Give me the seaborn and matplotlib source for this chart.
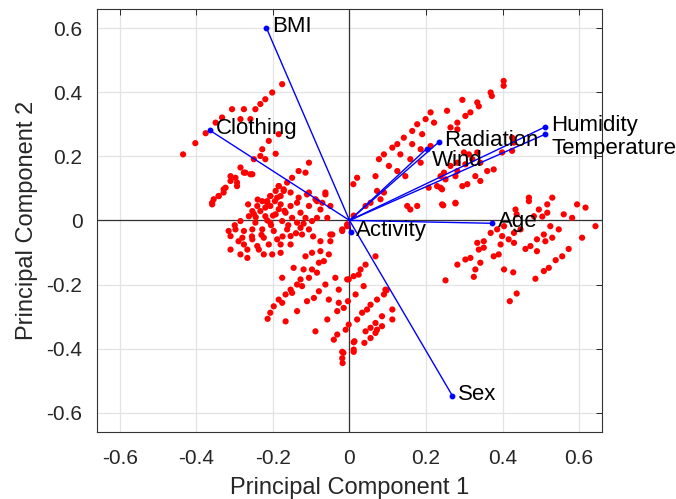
import matplotlib
matplotlib.use("Agg")
import matplotlib.pyplot as plt
import seaborn as sns
import pandas as pd

# ---- observation scores (PC1, PC2) ----
score_pc1 = [
    # upper-left arm (Clothing direction)
    -0.176, -0.202, -0.220, -0.233, -0.246, -0.276, -0.307, -0.333, -0.285, -0.259,
    -0.350, -0.376, -0.403, -0.435, -0.211, -0.185, -0.228, -0.233, -0.193, -0.220,
    -0.250, -0.285, -0.272, -0.254, -0.298, -0.311, -0.294, -0.324, -0.329, -0.342,
    -0.355, -0.359, -0.106, -0.133, -0.115, -0.150, -0.163, -0.185, -0.193, -0.172,
    -0.180, -0.207, -0.215, -0.063, -0.089, -0.106, -0.071,
    -0.311, -0.294, -0.276, -0.259, -0.329, -0.342, -0.359,
    # dense central-left cluster
    -0.185, -0.172, -0.154, -0.207, -0.189, -0.228, -0.215, -0.241, -0.254, -0.233,
    -0.207, -0.180, -0.154, -0.137, -0.133, -0.111, -0.063, -0.085, -0.106, -0.076,
    -0.050, -0.263, -0.220, -0.193, -0.167, -0.150, -0.128, -0.115, -0.285, -0.246,
    -0.207, -0.176, -0.137, -0.098, -0.085, -0.058, -0.316, -0.298, -0.276, -0.254,
    -0.228, -0.198, -0.163, -0.128, -0.106, -0.311, -0.280, -0.254, -0.224, -0.189,
    -0.154, -0.124, -0.050, -0.019, -0.006, -0.276, -0.241, -0.211, -0.180, -0.154,
    -0.311, -0.267, -0.237, -0.076, -0.050, -0.285, -0.224, -0.202, -0.180, -0.267,
    -0.019, -0.045,
    -0.240, -0.220, -0.195, -0.170, -0.265, -0.245, -0.215, -0.185, -0.160, -0.230,
    -0.205, -0.255, -0.290, -0.300, -0.140, -0.120, -0.095, -0.200, -0.175, -0.250,
    # lower arm
    -0.115, -0.098, -0.076, -0.054, -0.146, -0.120, -0.098, -0.080, -0.067, -0.176,
    -0.128, -0.106, -0.085, -0.137, -0.124, -0.154, -0.150, -0.167, -0.185, -0.176,
    -0.198, -0.207, -0.214, -0.167, -0.137, -0.111, -0.093, -0.080, -0.063, -0.037,
    -0.028, -0.054, -0.028, -0.032, -0.058, -0.089, -0.041, -0.032, -0.010, -0.002,
    -0.015, -0.004, -0.002, 0.011, 0.024, 0.042, 0.068, 0.037, 0.016, 0.020,
    0.033, 0.046, 0.055, 0.072, 0.090, 0.097, 0.112, 0.112, 0.085, 0.068,
    0.055, 0.042, 0.068, 0.055, 0.039, 0.013, 0.011, -0.016, -0.018, -0.019,
    -0.019, 0.011, 0.011, 0.072, 0.085, 0.094, 0.029, -0.006,
    # upper-right arm (Radiation / Humidity direction)
    0.403, 0.369, 0.334, 0.295, 0.316, 0.303, 0.255, 0.212, 0.199, 0.221,
    0.177, 0.164, 0.190, 0.264, 0.282, 0.282, 0.142, 0.164, 0.186, 0.212,
    0.112, 0.125, 0.090, 0.077, 0.133, 0.159, 0.186, 0.103, 0.125, 0.146,
    0.068, 0.020, 0.010, 0.090, 0.072, 0.081, 0.055, 0.042, 0.151, 0.177,
    0.159, 0.242, 0.277, 0.299, 0.312, 0.334, 0.321, 0.303, 0.282, 0.264,
    0.247, 0.238, 0.251, 0.277, 0.282, 0.360, 0.377, 0.342, 0.329, 0.342,
    0.308, 0.295, 0.229, 0.207, 0.238, 0.399, 0.425, 0.430, 0.425, 0.403,
    0.372, 0.338, -0.006, 0.011,
    # right cluster (Age direction)
    0.242, 0.245, 0.277, 0.469, 0.530, 0.517, 0.495, 0.517, 0.434, 0.437,
    0.482, 0.560, 0.582, 0.595, 0.617, 0.643, 0.547, 0.525, 0.508, 0.512,
    0.530, 0.490, 0.473, 0.460, 0.490, 0.447, 0.430, 0.404, 0.386, 0.369,
    0.399, 0.416, 0.395, 0.430, 0.351, 0.334, 0.338, 0.351, 0.377, 0.390,
    0.316, 0.303, 0.342, 0.282, 0.329, 0.325, 0.251, 0.404, 0.428, 0.486,
    0.508, 0.521, 0.539, 0.556, 0.573, 0.608, 0.437, 0.419, 0.504, 0.469,
]
score_pc2 = [
    0.425, 0.399, 0.378, 0.363, 0.347, 0.347, 0.347, 0.321, 0.316, 0.316,
    0.305, 0.272, 0.241, 0.206, 0.248, 0.269, 0.222, 0.201, 0.208, 0.191,
    0.191, 0.165, 0.149, 0.144, 0.133, 0.123, 0.107, 0.102, 0.087, 0.076,
    0.066, 0.050, 0.180, 0.154, 0.149, 0.133, 0.118, 0.107, 0.092, 0.092,
    0.076, 0.076, 0.060, 0.087, 0.066, 0.087, 0.055,
    0.138, 0.118, 0.149, 0.144, 0.097, 0.076, 0.055,
    0.107, 0.097, 0.087, 0.076, 0.071, 0.060, 0.055, 0.045, 0.029, 0.029,
    0.045, 0.050, 0.045, 0.055, 0.071, 0.081, 0.081, 0.060, 0.045, 0.034,
    0.045, 0.013, 0.013, 0.019, 0.024, 0.008, 0.024, 0.008, -0.002, -0.007,
    -0.007, -0.002, -0.007, -0.002, 0.008, 0.008, -0.033, -0.028, -0.033, -0.028,
    -0.028, -0.033, -0.028, -0.023, -0.028, -0.049, -0.054, -0.059, -0.054, -0.059,
    -0.049, -0.044, -0.044, -0.028, -0.018, -0.075, -0.080, -0.075, -0.075, -0.075,
    -0.091, -0.091, -0.091, -0.065, -0.065, -0.106, -0.106, -0.106, -0.101, -0.117,
    -0.033, -0.044,
    0.065, 0.040, 0.060, 0.030, 0.050, 0.010, 0.000, 0.035, -0.015, -0.045,
    -0.015, -0.050, -0.065, -0.015, -0.040, -0.010, -0.050, 0.015, -0.050, 0.020,
    -0.112, -0.101, -0.096, -0.106, -0.148, -0.153, -0.153, -0.132, -0.127, -0.179,
    -0.184, -0.179, -0.163, -0.200, -0.205, -0.216, -0.226, -0.231, -0.247, -0.257,
    -0.268, -0.288, -0.307, -0.315, -0.283, -0.252, -0.242, -0.221, -0.200, -0.179,
    -0.216, -0.247, -0.257, -0.283, -0.309, -0.346, -0.372, -0.356, -0.341, -0.325,
    -0.273, -0.252, -0.184, -0.174, -0.169, -0.138, -0.112, -0.205, -0.231, -0.309,
    -0.288, -0.278, -0.263, -0.247, -0.231, -0.218, -0.278, -0.309, -0.299, -0.320,
    -0.335, -0.346, -0.351, -0.367, -0.382, -0.377, -0.403, -0.413, -0.445, -0.410,
    -0.430, -0.380, -0.410, -0.341, -0.330, -0.216, -0.153, -0.184,
    0.435, 0.399, 0.368, 0.376, 0.337, 0.326, 0.342, 0.337, 0.316, 0.305,
    0.300, 0.279, 0.269, 0.290, 0.305, 0.284, 0.258, 0.238, 0.222, 0.232,
    0.227, 0.238, 0.206, 0.191, 0.206, 0.191, 0.180, 0.170, 0.154, 0.138,
    0.138, 0.133, 0.113, 0.087, 0.092, 0.066, 0.055, 0.045, 0.045, 0.045,
    0.034, 0.050, 0.055, 0.212, 0.206, 0.212, 0.191, 0.175, 0.180, 0.170,
    0.149, 0.138, 0.128, 0.138, 0.154, 0.154, 0.159, 0.180, 0.138, 0.123,
    0.113, 0.107, 0.107, 0.102, 0.102, 0.212, 0.217, 0.243, 0.258, 0.420,
    0.388, 0.356, -0.012, 0.015,
    0.097, 0.047, 0.053, 0.071, 0.071, 0.050, 0.034, 0.024, 0.034, 0.019,
    0.013, 0.019, 0.008, 0.050, 0.040, -0.018, -0.028, -0.018, -0.044, -0.065,
    -0.054, -0.059, -0.080, -0.089, -0.096, -0.028, -0.039, -0.018, -0.028, -0.039,
    -0.049, -0.059, -0.075, -0.070, -0.065, -0.070, -0.091, -0.085, -0.112, -0.106,
    -0.117, -0.122, -0.132, -0.138, -0.153, -0.176, -0.187, -0.153, -0.162, -0.182,
    -0.158, -0.148, -0.124, -0.112, -0.089, -0.054, -0.228, -0.252, 0.012, 0.060,
]

# ---- variable loadings ----
var_names = ["BMI", "Clothing", "Radiation", "Wind", "Humidity",
             "Temperature", "Age", "Activity", "Sex"]
load_pc1 = [-0.217, -0.365, 0.233, 0.202, 0.512, 0.510, 0.373, 0.003, 0.269]
load_pc2 = [0.600, 0.281, 0.244, 0.224, 0.292, 0.268, -0.009, -0.037, -0.547]

ticks = [-0.6, -0.4, -0.2, 0, 0.2, 0.4, 0.6]
tick_labels = ["-0.6", "-0.4", "-0.2", "0", "0.2", "0.4", "0.6"]

# label placement (offset points) to mimic the reference layout
label_offsets = {"Temperature": (5, -10), "Wind": (4, -8.5)}

sns.set_theme(style="white")
plt.rcParams["font.family"] = ["Liberation Sans", "DejaVu Sans"]

fig = plt.figure(figsize=(6.76, 4.99), dpi=100)
ax = fig.add_axes([0.1435, 0.1343, 0.747, 0.848])

ax.set_xlim(-0.66, 0.66)
ax.set_ylim(-0.66, 0.66)
ax.grid(True, color="#e3e3e3", linewidth=0.9)
ax.set_axisbelow(True)
ax.axhline(0, color="#333333", linewidth=0.9, zorder=1)
ax.axvline(0, color="#333333", linewidth=0.9, zorder=1)

scores = pd.DataFrame({"PC1": score_pc1, "PC2": score_pc2})
sns.scatterplot(data=scores, x="PC1", y="PC2", ax=ax, color="#ff0000",
                s=20, linewidth=0, edgecolor="none", zorder=2)

for name, lx, ly in zip(var_names, load_pc1, load_pc2):
    ax.plot([0, lx], [0, ly], color="#0000ff", linewidth=1.0, zorder=3)
    ax.plot([lx], [ly], marker="o", color="#0000ff", markersize=3.2, zorder=4)
    off = label_offsets.get(name, (4, 1))
    ax.annotate(name, (lx, ly), xytext=off, textcoords="offset points",
                ha="left", va="center", fontsize=16, color="black", zorder=5)

ax.set_xticks(ticks)
ax.set_xticklabels(tick_labels)
ax.set_yticks(ticks)
ax.set_yticklabels(tick_labels)
ax.tick_params(direction="in", length=4, width=0.7, labelsize=15,
               top=True, right=True, colors="#262626")
ax.tick_params(axis="x", pad=12)
ax.tick_params(axis="y", pad=10.5)
for sp in ax.spines.values():
    sp.set_visible(True)
    sp.set_color("#333333")
    sp.set_linewidth(0.8)

ax.set_xlabel("Principal Component 1", fontsize=17, color="#262626", labelpad=7)
ax.set_ylabel("Principal Component 2", fontsize=17, color="#262626", labelpad=6)

fig.savefig("out.png", dpi=100)
